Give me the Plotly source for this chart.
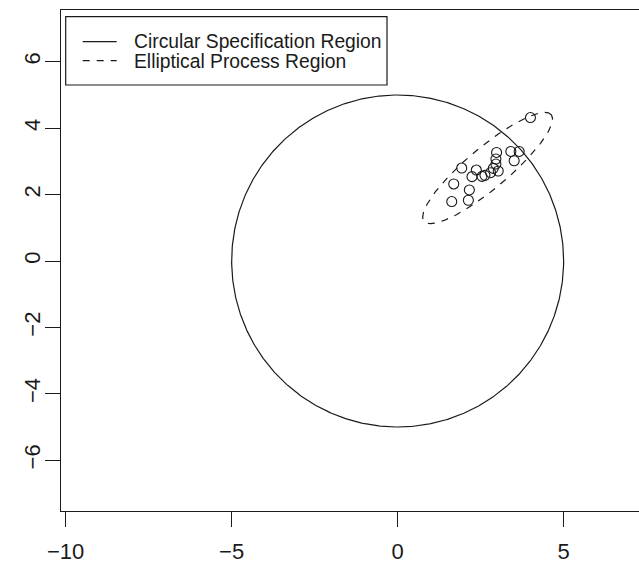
import numpy as np
import plotly.graph_objects as go

# ---- data ----
pts_x = [4.00, 3.41, 3.66, 3.51, 2.98, 2.96, 2.96, 2.88, 3.03, 2.80,
         2.63, 2.54, 2.37, 2.24, 1.93, 1.69, 2.16, 1.63, 2.13]
pts_y = [4.32, 3.30, 3.30, 3.02, 3.27, 3.07, 2.92, 2.79, 2.71, 2.66,
         2.58, 2.55, 2.74, 2.54, 2.80, 2.32, 2.14, 1.79, 1.83]

spec_center = (0.0, 0.0)
spec_radius = 5.0

ell_center = (2.71, 2.80)
ell_semi_major = 2.50
ell_semi_minor = 0.62
ell_angle_deg = 40.0

legend_labels = ["Circular Specification Region", "Elliptical Process Region"]
x_ticks = [-10, -5, 0, 5]
y_ticks = [-6, -4, -2, 0, 2, 4, 6]

def fmt(v):
    return ("\u2212" + str(abs(v))) if v < 0 else str(v)

# ---- geometry ----
t = np.linspace(0, 2 * np.pi, 721)
circ_x = spec_center[0] + spec_radius * np.cos(t)
circ_y = spec_center[1] + spec_radius * np.sin(t)

th = np.deg2rad(ell_angle_deg)
ex = ell_center[0] + ell_semi_major * np.cos(t) * np.cos(th) - ell_semi_minor * np.sin(t) * np.sin(th)
ey = ell_center[1] + ell_semi_major * np.cos(t) * np.sin(th) + ell_semi_minor * np.sin(t) * np.cos(th)

LW = 1.2
INK = "#1a1a1a"
FONT = "Liberation Sans, Arial, Helvetica, sans-serif"

fig = go.Figure()
fig.add_trace(go.Scatter(x=circ_x, y=circ_y, mode="lines",
                         line=dict(color=INK, width=LW), showlegend=False,
                         hoverinfo="skip"))
fig.add_trace(go.Scatter(x=ex, y=ey, mode="lines",
                         line=dict(color=INK, width=LW, dash="7px,7px"),
                         showlegend=False, hoverinfo="skip"))
fig.add_trace(go.Scatter(x=pts_x, y=pts_y, mode="markers",
                         marker=dict(symbol="circle-open", size=10,
                                     color=INK, line=dict(width=1.1, color=INK)),
                         showlegend=False))

W, H = 639, 564
L, T, B = 61, 10, 53
R = 0
pw = W - L - R
ph = H - T - B

def px_x(p):
    return (p - L) / pw

def px_y(p):
    return (H - B - p) / ph

# manual legend (R style)
shapes = [
    dict(type="rect", xref="paper", yref="paper",
         x0=px_x(65.7), x1=px_x(387), y0=px_y(85), y1=px_y(16.7),
         line=dict(color=INK, width=LW), fillcolor="white", layer="above"),
    dict(type="line", xref="paper", yref="paper",
         x0=px_x(82.7), x1=px_x(116.7), y0=px_y(41.7), y1=px_y(41.7),
         line=dict(color=INK, width=LW)),
    dict(type="line", xref="paper", yref="paper",
         x0=px_x(82.7), x1=px_x(116.7), y0=px_y(60.7), y1=px_y(60.7),
         line=dict(color=INK, width=LW, dash="7px,7px")),
]
annotations = [
    dict(text=legend_labels[0], xref="paper", yref="paper",
         x=px_x(132), y=px_y(41.5), xanchor="left", yanchor="middle",
         showarrow=False, font=dict(family=FONT, size=19.3, color=INK)),
    dict(text=legend_labels[1], xref="paper", yref="paper",
         x=px_x(132), y=px_y(61), xanchor="left", yanchor="middle",
         showarrow=False, font=dict(family=FONT, size=19.3, color=INK)),
]

fig.update_layout(
    template="none",
    width=W, height=H, autosize=False,
    margin=dict(l=L, r=R, t=T, b=B, pad=0),
    paper_bgcolor="white", plot_bgcolor="white",
    showlegend=False,
    shapes=shapes, annotations=annotations,
    font=dict(family=FONT, color=INK),
)
fig.update_xaxes(range=[-10.14, 7.27], tickvals=x_ticks,
                 ticktext=[fmt(v) for v in x_ticks],
                 automargin=False,
                 showgrid=False, zeroline=False,
                 showline=True, mirror=True, linecolor=INK, linewidth=LW,
                 ticks="outside", ticklen=15, tickwidth=LW, tickcolor=INK,
                 ticklabelstandoff=5,
                 tickfont=dict(family=FONT, size=22, color=INK))
fig.update_yaxes(range=[-7.53, 7.56], tickvals=y_ticks,
                 ticktext=[fmt(v) for v in y_ticks],
                 automargin=False,
                 showgrid=False, zeroline=False,
                 showline=True, mirror=False, linecolor=INK, linewidth=LW,
                 ticks="outside", ticklen=15, tickwidth=LW, tickcolor=INK,
                 tickangle=-90, ticklabelstandoff=-4,
                 tickfont=dict(family=FONT, size=22, color=INK))

fig.write_html("out.html",
               config={"displayModeBar": False, "responsive": False},
               post_script="document.body.style.margin='0';document.body.style.padding='0';")
